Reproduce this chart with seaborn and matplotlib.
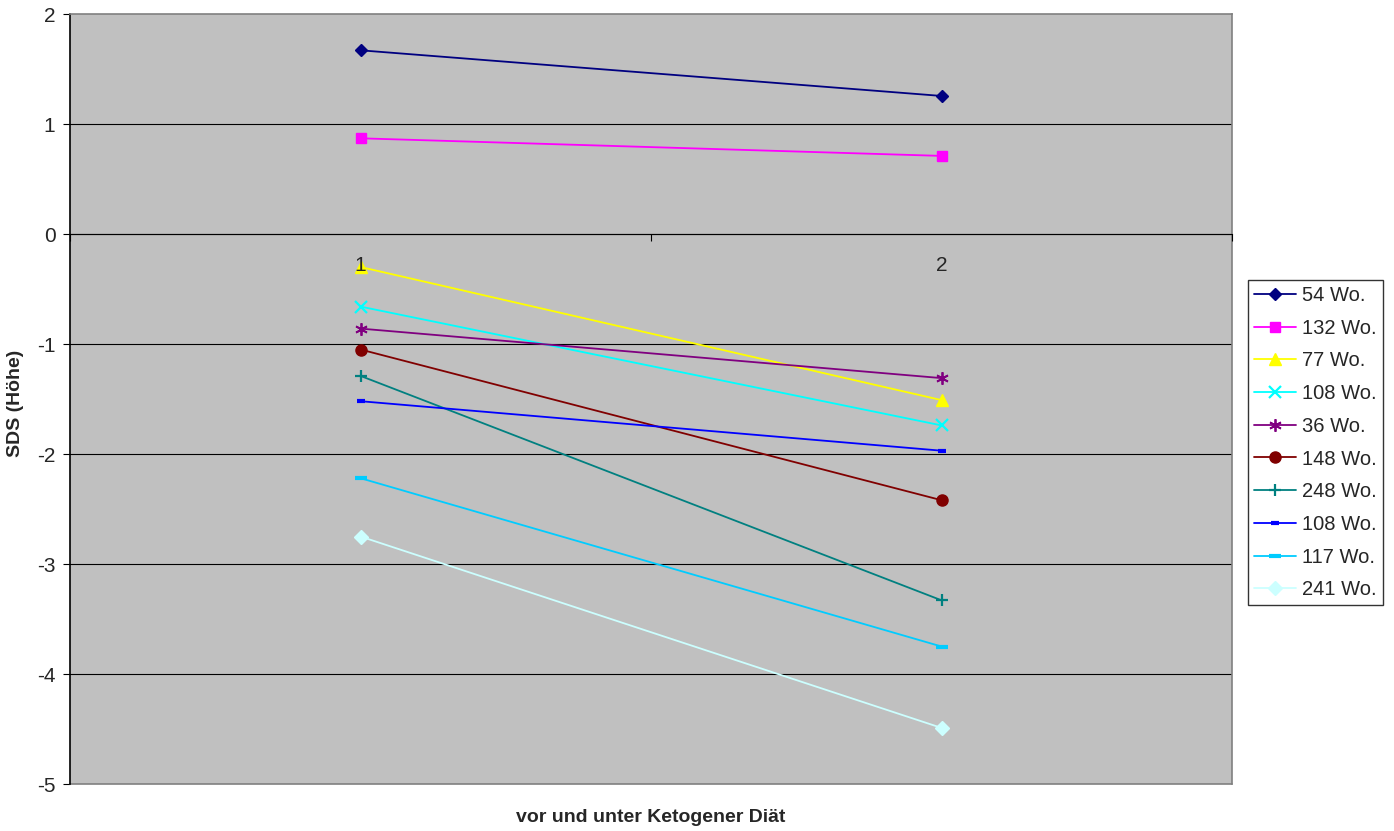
import matplotlib
matplotlib.use("Agg")
import matplotlib.pyplot as plt
import seaborn as sns
import pandas as pd

sns.set_style("white")
plt.rcParams["font.family"] = ["Liberation Sans", "DejaVu Sans"]

# Measurement points: 1 = before, 2 = under ketogenic diet
timepoints = [1, 2]

labels = ["54 Wo.", "132 Wo.", "77 Wo.", "108 Wo.", "36 Wo.",
          "148 Wo.", "248 Wo.", "108 Wo.", "117 Wo.", "241 Wo."]

sds_before = [1.67, 0.87, -0.30, -0.66, -0.86, -1.05, -1.29, -1.52, -2.22, -2.75]
sds_under = [1.255, 0.71, -1.51, -1.74, -1.31, -2.42, -3.33, -1.97, -3.75, -4.49]

colors = ["#000080", "#FF00FF", "#FFFF00", "#00FFFF", "#800080",
          "#800000", "#008080", "#0000FF", "#00CCFF", "#CCFFFF"]
markers = ["D", "s", "^", "x", (6, 2, 0), "o", "+", "_", "_", "D"]
msizes = [6.5, 7, 8, 8, 9, 8, 9, 6, 8, 7]
mews = [1, 1, 1, 1.6, 1.3, 1, 1.6, 3, 3, 1]

fig = plt.figure(figsize=(13.94, 8.31), dpi=100)
ax = fig.add_axes([70 / 1394, 1 - 784 / 831, (1232 - 70) / 1394, (784 - 14) / 831])
ax.set_facecolor("#C0C0C0")

for i, lab in enumerate(labels):
    df = pd.DataFrame({"x": timepoints, "y": [sds_before[i], sds_under[i]]})
    sns.lineplot(data=df, x="x", y="y", ax=ax, color=colors[i], marker=markers[i],
                 markersize=msizes[i], markeredgewidth=mews[i],
                 markeredgecolor=colors[i], linewidth=1.3, label=lab,
                 zorder=3)

ax.set_xlim(0.5, 2.5)
ax.set_ylim(-5, 2)

# horizontal gridlines
for yv in range(-4, 2):
    ax.axhline(yv, color="black", linewidth=0.8, zorder=1)
ax.axhline(-5, color="#808080", linewidth=1.2, zorder=1, clip_on=False)

ax.set_yticks(range(-5, 3))
ax.set_yticklabels([str(v) for v in range(-5, 3)], fontsize=15)
ax.tick_params(axis="y", direction="out", length=5, width=0.8, color="black",
               left=True, pad=5.5)

# category axis crosses at y = 0
ax.spines["bottom"].set_position(("data", 0))
ax.spines["bottom"].set_color("black")
ax.spines["bottom"].set_linewidth(0.8)
ax.spines["left"].set_color("black")
ax.spines["left"].set_linewidth(1.2)
ax.spines["top"].set_color("#808080")
ax.spines["right"].set_color("#808080")
ax.spines["top"].set_linewidth(1.2)
ax.spines["right"].set_linewidth(1.2)

ax.set_xticks(timepoints)
ax.set_xticklabels([str(t) for t in timepoints], fontsize=15)
ax.set_xticks([0.5, 1.5, 2.5], minor=True)
ax.tick_params(axis="x", which="major", length=0, pad=16)
ax.tick_params(axis="x", which="minor", direction="out", length=5, width=0.8,
               color="black", bottom=True)
ax.xaxis.set_zorder(5)

ax.set_xlabel("")
ax.set_ylabel("")
fig.text(16 / 1394, 1 - 403 / 831, "SDS (Höhe)", rotation=90,
         ha="center", va="center", fontsize=14, fontweight="bold")
fig.text((70 + 1232) / 2 / 1394, 1 - 817 / 831, "vor und unter Ketogener Diät",
         ha="center", va="center", fontsize=14, fontweight="bold")

leg = ax.legend(loc="upper left", bbox_to_anchor=(1248 / 1394, 1 - 280 / 831),
                bbox_transform=fig.transFigure, borderaxespad=0, fontsize=14.5,
                frameon=True, fancybox=False, edgecolor="black",
                handlelength=2.1, handletextpad=0.3, labelspacing=0.68,
                borderpad=0.3)
leg.get_frame().set_linewidth(1.0)

fig.savefig("out.png", dpi=100, facecolor="white")
